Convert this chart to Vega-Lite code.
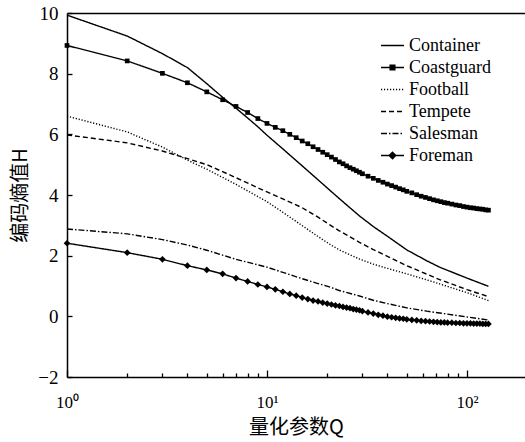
{
  "$schema": "https://vega.github.io/schema/vega-lite/v6.json",
  "autosize": "none",
  "width": 458,
  "height": 364,
  "padding": {"left": 67, "top": 13, "right": 0, "bottom": 65},
  "background": "white",
  "config": {
    "view": {"stroke": null},
    "font": "Liberation Serif",
    "axis": {"labelFont": "Liberation Serif", "labelFontSize": 19, "labelColor": "black", "domainColor": "black", "tickColor": "black", "domainWidth": 1.5, "tickWidth": 1.3, "grid": false, "titleColor": "black", "titleFont": "Noto Sans CJK SC", "titleFontWeight": "normal", "titleFontSize": 20}
  },
  "datasets": {
    "d": [
      {"s":"Container","Q":1,"H":9.93},{"s":"Container","Q":2,"H":9.24},{"s":"Container","Q":3,"H":8.66},{"s":"Container","Q":4,"H":8.20},{"s":"Container","Q":5,"H":7.67},{"s":"Container","Q":6,"H":7.22},{"s":"Container","Q":7,"H":6.86},{"s":"Container","Q":8,"H":6.54},{"s":"Container","Q":9,"H":6.25},{"s":"Container","Q":10,"H":5.97},{"s":"Container","Q":12,"H":5.52},{"s":"Container","Q":15,"H":4.96},{"s":"Container","Q":18,"H":4.50},{"s":"Container","Q":21,"H":4.11},{"s":"Container","Q":23,"H":3.88},{"s":"Container","Q":29,"H":3.31},{"s":"Container","Q":34,"H":2.96},{"s":"Container","Q":40,"H":2.64},{"s":"Container","Q":50,"H":2.19},{"s":"Container","Q":63,"H":1.83},{"s":"Container","Q":73,"H":1.62},{"s":"Container","Q":100,"H":1.26},{"s":"Container","Q":128,"H":0.99},
      {"s":"Football","Q":1,"H":6.60},{"s":"Football","Q":2,"H":6.08},{"s":"Football","Q":3,"H":5.58},{"s":"Football","Q":4,"H":5.15},{"s":"Football","Q":5,"H":4.85},{"s":"Football","Q":7,"H":4.35},{"s":"Football","Q":10,"H":3.78},{"s":"Football","Q":12,"H":3.43},{"s":"Football","Q":15,"H":2.99},{"s":"Football","Q":18,"H":2.63},{"s":"Football","Q":21,"H":2.34},{"s":"Football","Q":23,"H":2.19},{"s":"Football","Q":29,"H":1.89},{"s":"Football","Q":34,"H":1.72},{"s":"Football","Q":40,"H":1.58},{"s":"Football","Q":50,"H":1.40},{"s":"Football","Q":63,"H":1.20},{"s":"Football","Q":73,"H":1.07},{"s":"Football","Q":100,"H":0.78},{"s":"Football","Q":128,"H":0.52},
      {"s":"Tempete","Q":1,"H":5.98},{"s":"Tempete","Q":2,"H":5.72},{"s":"Tempete","Q":3,"H":5.45},{"s":"Tempete","Q":4,"H":5.20},{"s":"Tempete","Q":5,"H":5.00},{"s":"Tempete","Q":7,"H":4.57},{"s":"Tempete","Q":10,"H":4.10},{"s":"Tempete","Q":12,"H":3.87},{"s":"Tempete","Q":15,"H":3.58},{"s":"Tempete","Q":18,"H":3.27},{"s":"Tempete","Q":21,"H":2.98},{"s":"Tempete","Q":23,"H":2.82},{"s":"Tempete","Q":29,"H":2.44},{"s":"Tempete","Q":34,"H":2.20},{"s":"Tempete","Q":40,"H":1.98},{"s":"Tempete","Q":50,"H":1.67},{"s":"Tempete","Q":63,"H":1.39},{"s":"Tempete","Q":73,"H":1.21},{"s":"Tempete","Q":100,"H":0.88},{"s":"Tempete","Q":128,"H":0.65},
      {"s":"Salesman","Q":1,"H":2.88},{"s":"Salesman","Q":2,"H":2.72},{"s":"Salesman","Q":3,"H":2.53},{"s":"Salesman","Q":4,"H":2.35},{"s":"Salesman","Q":5,"H":2.18},{"s":"Salesman","Q":7,"H":1.88},{"s":"Salesman","Q":10,"H":1.62},{"s":"Salesman","Q":12,"H":1.45},{"s":"Salesman","Q":15,"H":1.24},{"s":"Salesman","Q":18,"H":1.08},{"s":"Salesman","Q":21,"H":0.95},{"s":"Salesman","Q":23,"H":0.85},{"s":"Salesman","Q":29,"H":0.67},{"s":"Salesman","Q":34,"H":0.53},{"s":"Salesman","Q":40,"H":0.42},{"s":"Salesman","Q":50,"H":0.28},{"s":"Salesman","Q":63,"H":0.17},{"s":"Salesman","Q":73,"H":0.11},{"s":"Salesman","Q":100,"H":-0.02},{"s":"Salesman","Q":128,"H":-0.12},
      {"s":"Coastguard","Q":1,"H":8.93},{"s":"Coastguard","Q":2,"H":8.42},{"s":"Coastguard","Q":3,"H":8.01},{"s":"Coastguard","Q":4,"H":7.70},{"s":"Coastguard","Q":5,"H":7.40},{"s":"Coastguard","Q":6,"H":7.14},{"s":"Coastguard","Q":7,"H":6.92},{"s":"Coastguard","Q":8,"H":6.72},{"s":"Coastguard","Q":9,"H":6.52},{"s":"Coastguard","Q":10,"H":6.36},
      {"s":"Coastguard","Q":11,"H":6.23},{"s":"Coastguard","Q":12,"H":6.12},{"s":"Coastguard","Q":13,"H":6.00},{"s":"Coastguard","Q":14,"H":5.89},{"s":"Coastguard","Q":15,"H":5.78},{"s":"Coastguard","Q":16,"H":5.69},{"s":"Coastguard","Q":17,"H":5.59},{"s":"Coastguard","Q":18,"H":5.50},{"s":"Coastguard","Q":19,"H":5.41},{"s":"Coastguard","Q":20,"H":5.33},
      {"s":"Coastguard","Q":21,"H":5.25},{"s":"Coastguard","Q":22,"H":5.17},{"s":"Coastguard","Q":23,"H":5.09},{"s":"Coastguard","Q":24,"H":5.03},{"s":"Coastguard","Q":25,"H":4.96},{"s":"Coastguard","Q":26,"H":4.90},{"s":"Coastguard","Q":27,"H":4.85},{"s":"Coastguard","Q":28,"H":4.80},{"s":"Coastguard","Q":29,"H":4.75},{"s":"Coastguard","Q":30,"H":4.70},
      {"s":"Coastguard","Q":32,"H":4.62},{"s":"Coastguard","Q":34,"H":4.55},{"s":"Coastguard","Q":36,"H":4.48},{"s":"Coastguard","Q":38,"H":4.42},{"s":"Coastguard","Q":40,"H":4.36},{"s":"Coastguard","Q":42,"H":4.31},{"s":"Coastguard","Q":44,"H":4.26},{"s":"Coastguard","Q":46,"H":4.21},{"s":"Coastguard","Q":48,"H":4.17},{"s":"Coastguard","Q":50,"H":4.12},
      {"s":"Coastguard","Q":53,"H":4.07},{"s":"Coastguard","Q":56,"H":4.01},{"s":"Coastguard","Q":59,"H":3.96},{"s":"Coastguard","Q":62,"H":3.92},{"s":"Coastguard","Q":65,"H":3.88},{"s":"Coastguard","Q":68,"H":3.84},{"s":"Coastguard","Q":71,"H":3.81},{"s":"Coastguard","Q":74,"H":3.78},{"s":"Coastguard","Q":77,"H":3.75},{"s":"Coastguard","Q":80,"H":3.73},
      {"s":"Coastguard","Q":84,"H":3.70},{"s":"Coastguard","Q":88,"H":3.67},{"s":"Coastguard","Q":92,"H":3.65},{"s":"Coastguard","Q":96,"H":3.62},{"s":"Coastguard","Q":100,"H":3.60},{"s":"Coastguard","Q":104,"H":3.58},{"s":"Coastguard","Q":108,"H":3.57},{"s":"Coastguard","Q":112,"H":3.55},{"s":"Coastguard","Q":116,"H":3.54},{"s":"Coastguard","Q":120,"H":3.53},{"s":"Coastguard","Q":124,"H":3.51},{"s":"Coastguard","Q":128,"H":3.50},
      {"s":"Foreman","Q":1,"H":2.41},{"s":"Foreman","Q":2,"H":2.10},{"s":"Foreman","Q":3,"H":1.88},{"s":"Foreman","Q":4,"H":1.67},{"s":"Foreman","Q":5,"H":1.53},{"s":"Foreman","Q":6,"H":1.40},{"s":"Foreman","Q":7,"H":1.26},{"s":"Foreman","Q":8,"H":1.15},{"s":"Foreman","Q":9,"H":1.05},{"s":"Foreman","Q":10,"H":0.97},
      {"s":"Foreman","Q":11,"H":0.89},{"s":"Foreman","Q":12,"H":0.81},{"s":"Foreman","Q":13,"H":0.74},{"s":"Foreman","Q":14,"H":0.68},{"s":"Foreman","Q":15,"H":0.62},{"s":"Foreman","Q":16,"H":0.57},{"s":"Foreman","Q":17,"H":0.52},{"s":"Foreman","Q":18,"H":0.49},{"s":"Foreman","Q":19,"H":0.45},{"s":"Foreman","Q":20,"H":0.42},
      {"s":"Foreman","Q":21,"H":0.39},{"s":"Foreman","Q":22,"H":0.36},{"s":"Foreman","Q":23,"H":0.34},{"s":"Foreman","Q":24,"H":0.31},{"s":"Foreman","Q":25,"H":0.29},{"s":"Foreman","Q":26,"H":0.27},{"s":"Foreman","Q":27,"H":0.24},{"s":"Foreman","Q":28,"H":0.22},{"s":"Foreman","Q":29,"H":0.20},{"s":"Foreman","Q":30,"H":0.17},
      {"s":"Foreman","Q":32,"H":0.13},{"s":"Foreman","Q":34,"H":0.09},{"s":"Foreman","Q":36,"H":0.05},{"s":"Foreman","Q":38,"H":0.02},{"s":"Foreman","Q":40,"H":-0.01},{"s":"Foreman","Q":42,"H":-0.03},{"s":"Foreman","Q":44,"H":-0.05},{"s":"Foreman","Q":46,"H":-0.07},{"s":"Foreman","Q":48,"H":-0.08},{"s":"Foreman","Q":50,"H":-0.10},
      {"s":"Foreman","Q":53,"H":-0.12},{"s":"Foreman","Q":56,"H":-0.13},{"s":"Foreman","Q":59,"H":-0.15},{"s":"Foreman","Q":62,"H":-0.16},{"s":"Foreman","Q":65,"H":-0.17},{"s":"Foreman","Q":68,"H":-0.18},{"s":"Foreman","Q":71,"H":-0.19},{"s":"Foreman","Q":74,"H":-0.20},{"s":"Foreman","Q":77,"H":-0.20},{"s":"Foreman","Q":80,"H":-0.21},
      {"s":"Foreman","Q":84,"H":-0.21},{"s":"Foreman","Q":88,"H":-0.22},{"s":"Foreman","Q":92,"H":-0.22},{"s":"Foreman","Q":96,"H":-0.23},{"s":"Foreman","Q":100,"H":-0.23},{"s":"Foreman","Q":104,"H":-0.23},{"s":"Foreman","Q":108,"H":-0.24},{"s":"Foreman","Q":112,"H":-0.24},{"s":"Foreman","Q":116,"H":-0.24},{"s":"Foreman","Q":120,"H":-0.25},{"s":"Foreman","Q":124,"H":-0.25},{"s":"Foreman","Q":128,"H":-0.25}
    ]
  },
  "data": {"name": "d"},
  "resolve": {"axis": {"x": "independent"}},
  "layer": [
    {
      "mark": {"type": "line", "color": "black", "strokeWidth": 1.4},
      "encoding": {
        "x": {"field": "Q", "type": "quantitative",
          "scale": {"type": "log", "domain": [1, 195], "nice": false},
          "axis": {"orient": "bottom", "title": "量化参数Q", "titlePadding": 7, "labelFontSize": 17,
            "values": [1,2,3,4,5,6,7,8,9,10,20,30,40,50,60,70,80,90,100],
            "labelExpr": "datum.value == 1 ? '10⁰' : datum.value == 10 ? '10¹' : datum.value == 100 ? '10²' : ''",
            "tickSize": {"condition": {"test": "datum.value == 1 || datum.value == 10 || datum.value == 100", "value": -7}, "value": -4},
            "labelPadding": 24, "labelFlush": false}},
        "y": {"field": "H", "type": "quantitative",
          "scale": {"domain": [-2, 10], "nice": false, "zero": false},
          "axis": {"title": "编码熵值H", "values": [-2,0,2,4,6,8,10], "tickSize": -5, "labelPadding": 14, "titlePadding": 7}},
        "strokeDash": {"field": "s", "type": "nominal",
          "scale": {"domain": ["Container","Coastguard","Football","Tempete","Salesman","Foreman"],
            "range": [[1,0],[1,0],[1.2,1.8],[5,3],[6,2,1.5,2],[1,0]]},
          "legend": {"title": null, "orient": "none", "legendX": 313, "legendY": 20,
            "labelFont": "Liberation Serif", "labelFontSize": 18, "labelColor": "black",
            "symbolSize": 529, "symbolStrokeWidth": 1.5, "symbolStrokeColor": "black", "symbolFillColor": "black",
            "labelOffset": 4, "rowPadding": -1.5,
            "encode": {"symbols": {"update": {"shape": {"signal": "datum.value === 'Coastguard' ? 'M-1,0H1M-0.2,-0.2H0.2V0.2H-0.2Z' : datum.value === 'Foreman' ? 'M-1,0H1M0,-0.28L0.28,0L0,0.28L-0.28,0Z' : 'stroke'"}, "fill": {"value": "black"}, "stroke": {"value": "black"}, "strokeWidth": {"value": 1.5}, "opacity": {"value": 1}}}}}},
        "detail": {"field": "s"}
      }
    },
    {
      "transform": [{"filter": "datum.s === 'Coastguard' || datum.s === 'Foreman'"}],
      "mark": {"type": "point", "filled": true, "color": "black", "opacity": 1},
      "encoding": {
        "x": {"field": "Q", "type": "quantitative",
          "axis": {"orient": "top", "title": null, "labels": false, "ticks": false, "domain": true}},
        "y": {"field": "H", "type": "quantitative"},
        "shape": {"field": "s", "type": "nominal", "scale": {"domain": ["Coastguard","Foreman"], "range": ["square","diamond"]}, "legend": null},
        "size": {"field": "s", "type": "nominal", "scale": {"domain": ["Coastguard","Foreman"], "range": [22, 45]}, "legend": null}
      }
    }
  ]
}
